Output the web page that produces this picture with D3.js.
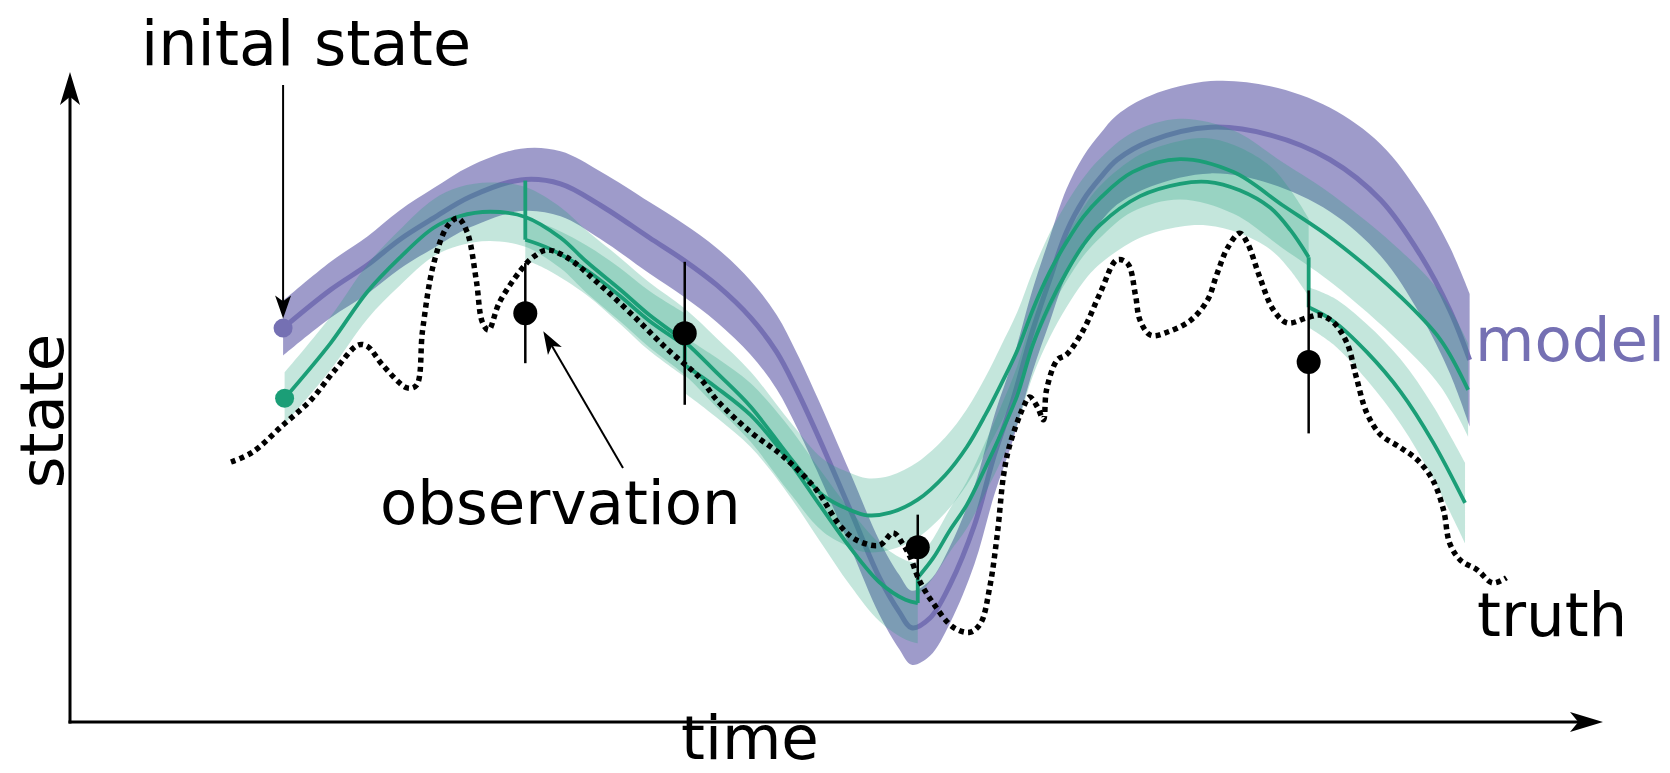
<!DOCTYPE html>
<html>
<head>
<meta charset="utf-8">
<script src="https://cdn.jsdelivr.net/npm/d3@7"></script>
<style>
  body { margin: 0; background: #fff; }
  svg text { font-family: "DejaVu Sans", sans-serif; }
</style>
</head>
<body>
<div id="chart"></div>
<script>
"use strict"
// values, time and state in arbitrary units (0..100)

// free model run (purple) and its spread
const modelTime = [13.9, 17.0, 19.4, 21.5, 23.7, 26.1, 29.4, 32.0, 34.6, 37.8, 40.0, 42.2, 44.4, 46.1, 47.4, 48.7, 50.9, 52.8, 54.1, 54.9, 56.1, 57.4, 59.0, 60.3, 61.5, 62.8, 63.9, 65.0, 66.1, 67.2, 68.3, 70.5, 74.4, 78.3, 82.2, 85.5, 88.1, 90.0, 91.3];
const modelState = [60.6, 66.5, 70.3, 74.2, 77.5, 80.8, 83.4, 82.8, 79.5, 74.5, 71.1, 67.2, 62.2, 56.9, 51.1, 44.5, 32.6, 22.2, 16.9, 14.5, 16.0, 21.1, 30.3, 41.1, 49.5, 60.3, 68.0, 75.4, 80.3, 83.7, 86.5, 89.4, 91.5, 90.3, 86.5, 80.3, 71.8, 63.4, 55.7];
const modelSpread = [4.2, 4.3, 4.4, 4.5, 4.6, 4.7, 4.8, 5.0, 5.2, 5.5, 5.6, 5.7, 5.7, 5.7, 5.7, 5.7, 5.7, 5.7, 5.7, 5.7, 5.8, 5.9, 6.0, 6.1, 6.2, 6.3, 6.5, 6.6, 6.7, 6.8, 6.9, 7.0, 7.1, 7.5, 8.0, 8.6, 9.2, 9.7, 10.2];

// continuous green run from the second initial state
const smoothTime = [14.0, 17.0, 19.4, 21.5, 23.7, 25.4, 27.4, 29.7, 32.0, 33.7, 35.9, 37.8, 40.1, 42.2, 44.4, 47.0, 49.1, 50.9, 52.0, 53.5, 55.3, 57.1, 58.5, 59.7, 60.7, 61.8, 62.8, 63.9, 65.0, 66.1, 67.2, 69.3, 72.4, 75.9, 79.1, 82.4, 86.8, 89.4, 91.2];
const smoothState = [49.8, 58.3, 66.2, 71.4, 76.0, 77.8, 78.5, 77.7, 74.5, 70.8, 66.5, 62.6, 58.5, 53.7, 48.5, 40.6, 34.9, 32.6, 31.8, 32.2, 34.2, 38.0, 42.3, 47.2, 51.8, 57.2, 63.4, 69.2, 73.8, 77.7, 80.6, 84.6, 86.6, 84.6, 79.5, 74.2, 65.4, 58.8, 51.1];
const smoothSpread = [4.0, 4.1, 4.2, 4.3, 4.4, 4.5, 4.5, 4.6, 4.7, 4.8, 4.9, 5.0, 5.1, 5.3, 5.4, 5.5, 5.6, 5.7, 5.7, 5.7, 5.8, 5.8, 5.8, 5.8, 5.9, 5.9, 5.9, 6.0, 6.0, 6.0, 6.1, 6.1, 6.2, 6.4, 6.6, 6.8, 7.1, 7.2, 7.2];

// assimilation cycles (green), one forecast per analysis
const cycleTime = [
    [29.7, 31.2, 33.7, 35.9, 37.8, 40.1],
    [40.1, 42.2, 44.4, 46.6, 48.9, 50.9, 52.8, 54.5, 55.3],
    [55.3, 56.3, 57.4, 58.5, 59.7, 60.7, 61.8, 62.8, 63.9, 65.0, 66.1, 67.2, 69.8, 72.4, 74.2, 76.3, 78.3, 79.6, 80.8],
    [80.8, 82.4, 84.6, 86.8, 88.9, 91.0]
];
const cycleState = [
    [74.2, 72.9, 69.5, 65.5, 61.7, 58.0],
    [54.9, 51.4, 47.2, 41.1, 33.4, 26.8, 21.5, 18.8, 18.3],
    [22.2, 25.2, 29.5, 33.4, 39.1, 44.2, 50.3, 58.0, 64.2, 69.2, 73.4, 76.5, 80.9, 82.8, 83.1, 81.8, 79.1, 75.7, 71.5],
    [63.8, 61.7, 56.9, 50.8, 43.1, 33.7]
];
const cycleSpread = [
    [3.1, 3.4, 3.8, 4.3, 4.6, 4.9],
    [4.3, 4.6, 4.9, 5.2, 5.5, 5.8, 6.0, 6.1, 6.2],
    [2.8, 3.0, 3.3, 3.6, 3.9, 4.2, 4.5, 4.8, 5.1, 5.4, 5.7, 6.0, 6.4, 6.6, 6.7, 6.6, 6.4, 6.2, 6.0],
    [3.1, 3.6, 4.3, 5.0, 5.6, 6.2]
];
// forecast value just before each analysis
const forecastAtObs = [83.3, 58.0, 18.3, 71.5];

// observations
const obsTime = [29.7, 40.1, 55.3, 80.8];
const obsState = [62.9, 59.8, 26.9, 55.4];
const obsError = [7.7, 11.0, 5.0, 11.0];

// truth
const truthTime = [10.5, 11.9, 13.9, 15.7, 17.3, 18.8, 19.4, 20.4, 22.0, 22.6,
    23.0, 23.7, 24.6, 25.3, 25.9, 26.5, 26.9, 27.3, 28.0, 29.4,
    30.2, 31.1, 32.4, 34.6, 36.7, 38.9, 41.1, 42.2, 44.4, 46.5,
    48.7, 50.2, 51.3, 52.8, 53.7, 54.3, 54.8, 55.4, 56.3, 57.6,
    58.7, 59.4, 60.0, 60.5, 60.9, 61.3, 62.2, 62.6, 63.1, 63.5,
    63.7, 64.4, 65.0, 66.1, 67.2, 68.3, 69.0, 69.5, 69.8, 70.5,
    71.6, 73.1, 74.2, 74.8, 75.5, 76.3, 76.8, 77.6, 78.5, 79.4,
    80.7, 81.5, 82.4, 83.3, 83.9, 84.6, 85.5, 86.8, 87.9, 88.9,
    89.6, 90.0, 90.7, 91.8, 92.8, 93.7];
const truthState = [40.0, 41.5, 45.7, 49.5, 54.2, 58.0, 57.8, 54.9, 51.4, 51.8,
    60.3, 70.3, 76.2, 77.5, 75.4, 68.0, 61.5, 60.3, 64.5, 69.5,
    71.5, 72.6, 71.5, 67.2, 62.6, 57.5, 52.9, 49.5, 44.6, 40.9,
    35.7, 30.3, 28.0, 27.2, 29.1, 27.5, 25.4, 21.8, 18.3, 14.6,
    13.8, 15.2, 20.8, 29.1, 38.0, 42.6, 48.5, 50.0, 48.5, 46.5,
    51.1, 55.7, 56.5, 60.3, 66.0, 71.1, 70.5, 65.7, 61.8, 59.5,
    60.0, 61.8, 64.9, 68.8, 72.9, 75.2, 73.7, 68.5, 63.4, 61.4,
    62.2, 62.6, 61.5, 58.3, 53.1, 47.5, 44.2, 42.2, 40.3, 37.2,
    32.6, 27.5, 24.9, 23.4, 21.4, 22.2];

const purple = "#7570b3";
const green = "#1b9e77";

function zipSeries(time, state, spread) {
    return time.map(function(t, i) {
        return {t: t, s: state[i], w: spread ? spread[i] : 0};
    });
}

function drawArrow(g, x1, y1, x2, y2, len, half, lw) {
    let ang = Math.atan2(y2 - y1, x2 - x1);
    let back = len * 0.6;
    g.append("line")
        .attr("x1", x1).attr("y1", y1)
        .attr("x2", x2 - Math.cos(ang) * back).attr("y2", y2 - Math.sin(ang) * back)
        .attr("stroke", "#000").attr("stroke-width", lw);
    g.append("path")
        .attr("d", "M0,0L" + (-len) + "," + (-half) + "L" + (-len * 0.75) + ",0L" + (-len) + "," + half + "Z")
        .attr("transform", "translate(" + x2 + "," + y2 + ") rotate(" + (ang * 180 / Math.PI) + ")")
        .attr("fill", "#000");
}

function draw() {
    const fullWidth = 1670;
    const fullHeight = 773;
    const svg = d3.select("#chart").append("svg")
        .attr("width", fullWidth).attr("height", fullHeight);
    svg.append("rect").attr("width", fullWidth).attr("height", fullHeight).attr("fill", "#fff");

    const xScale = d3.scaleLinear().domain([0, 100]).range([70, 1603]);
    const yScale = d3.scaleLinear().domain([0, 100]).range([722, 72]);

    const curve = d3.curveCatmullRom.alpha(0.5);
    const line = d3.line().x(d => xScale(d.t)).y(d => yScale(d.s)).curve(curve);
    const band = d3.area()
        .x(d => xScale(d.t))
        .y0(d => yScale(d.s - d.w))
        .y1(d => yScale(d.s + d.w))
        .curve(curve);

    const model = zipSeries(modelTime, modelState, modelSpread);
    const smooth = zipSeries(smoothTime, smoothState, smoothSpread);
    const cycles = cycleTime.map((c, i) => zipSeries(c, cycleState[i], cycleSpread[i]));
    const truth = zipSeries(truthTime, truthState);

    // model run
    svg.append("path").attr("d", band(model)).attr("fill", purple).attr("fill-opacity", 0.7);
    svg.append("path").attr("d", line(model)).attr("fill", "none")
        .attr("stroke", purple).attr("stroke-width", 5);

    // green spreads
    const bands = svg.append("g");
    bands.append("path").attr("d", band(smooth)).attr("fill", green).attr("fill-opacity", 0.26);
    bands.selectAll(".cband").data(cycles).enter().append("path")
        .attr("d", d => band(d)).attr("fill", green).attr("fill-opacity", 0.26);

    // green lines
    const lines = svg.append("g").attr("fill", "none").attr("stroke", green).attr("stroke-width", 3.8);
    lines.append("path").attr("d", line(smooth));
    lines.selectAll(".cline").data(cycles).enter().append("path").attr("d", d => line(d));
    lines.selectAll(".jump").data(obsTime).enter().append("line")
        .attr("x1", d => xScale(d)).attr("x2", d => xScale(d))
        .attr("y1", (d, i) => yScale(forecastAtObs[i]))
        .attr("y2", (d, i) => yScale(cycleState[i][0]));

    // truth
    svg.append("path").attr("d", line(truth)).attr("fill", "none")
        .attr("stroke", "#000").attr("stroke-width", 5.5).attr("stroke-dasharray", "5,4.2");

    // observations
    const obs = svg.append("g");
    obs.selectAll(".bar").data(obsTime).enter().append("line")
        .attr("x1", d => xScale(d)).attr("x2", d => xScale(d))
        .attr("y1", (d, i) => yScale(obsState[i] + obsError[i]))
        .attr("y2", (d, i) => yScale(obsState[i] - obsError[i]))
        .attr("stroke", "#000").attr("stroke-width", 2.5);
    obs.selectAll(".dot").data(obsTime).enter().append("circle")
        .attr("cx", d => xScale(d)).attr("cy", (d, i) => yScale(obsState[i]))
        .attr("r", 12).attr("fill", "#000");

    // initial states
    svg.append("circle").attr("cx", xScale(modelTime[0])).attr("cy", yScale(modelState[0]))
        .attr("r", 9.5).attr("fill", purple);
    svg.append("circle").attr("cx", xScale(smoothTime[0])).attr("cy", yScale(smoothState[0]))
        .attr("r", 9.5).attr("fill", green);

    // axes
    const axis = svg.append("g");
    drawArrow(axis, xScale(0) - 1.5, yScale(0), xScale(100), yScale(0), 33, 10, 3);
    drawArrow(axis, xScale(0), yScale(0) + 1.5, xScale(0), yScale(100), 33, 10, 3);

    // annotations
    const notes = svg.append("g");
    drawArrow(notes, xScale(modelTime[0]), 85, xScale(modelTime[0]), yScale(modelState[0]) - 9.5, 23, 8, 2);
    drawArrow(notes, 623, 468, xScale(obsTime[0]) + 18, yScale(obsState[0]) + 18, 23, 8, 2);

    const fs = 61;
    notes.append("text").attr("x", 141).attr("y", 65).attr("font-size", 62).text("inital state");
    notes.append("text").attr("x", 380).attr("y", 524).attr("font-size", fs).text("observation");
    notes.append("text").attr("x", 1475).attr("y", 361).attr("font-size", fs).attr("fill", purple).text("model");
    notes.append("text").attr("x", 1477).attr("y", 636).attr("font-size", fs).text("truth");
    notes.append("text").attr("x", 750).attr("y", 759).attr("font-size", fs)
        .attr("text-anchor", "middle").text("time");
    notes.append("text").attr("transform", "translate(63,411) rotate(-90)")
        .attr("font-size", fs).attr("text-anchor", "middle").text("state");
}

draw();
</script>
</body>
</html>
